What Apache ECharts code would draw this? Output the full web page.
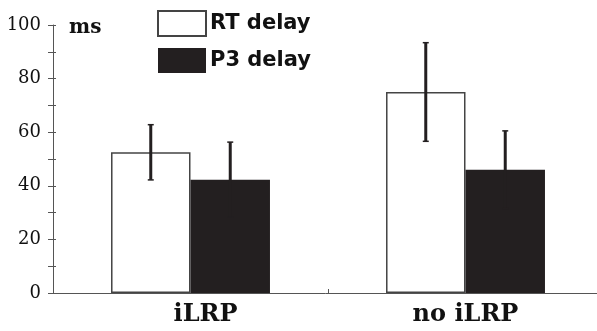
<!DOCTYPE html>
<html>
<head>
<meta charset="utf-8">
<script src="https://cdn.jsdelivr.net/npm/echarts@6/dist/echarts.min.js"></script>
<style>
html, body { margin: 0; padding: 0; background: #fff; }
#main { width: 597px; height: 331px; }
</style>
</head>
<body>
<div id="main"></div>
<script>
// 数据
var categories = ['iLRP', 'no iLRP']
var rtDelay = [52.5, 75]
var rtErr = [10.3, 18.4]
var p3Delay = [42.3, 46]
var p3Err = [14, 14.5]
var yTicks = [0, 20, 40, 60, 80, 100]

var axisColor = '#555'
var ink = '#231f20'

// 误差线 (side: -1 左柱, 1 右柱)
function errorSeries(name, vals, errs, side) {
	var data = vals.map(function (v, i) { return [i, v - errs[i], v + errs[i]] })
	return {
		type: 'custom',
		name: name + ' err',
		z: 5,
		data: data,
		renderItem: function (params, api) {
			var band = api.size([1, 0])[0]
			var lo = api.coord([api.value(0), api.value(1)])
			var hi = api.coord([api.value(0), api.value(2)])
			var x = lo[0] + side * band * 0.1445
			var cap = 3
			var st = { stroke: ink, lineWidth: 3 }
			return {
				type: 'group',
				children: [
					{ type: 'line', shape: { x1: x, y1: lo[1], x2: x, y2: hi[1] }, style: st },
					{ type: 'line', shape: { x1: x - cap, y1: hi[1], x2: x + cap, y2: hi[1] }, style: { stroke: ink, lineWidth: 1.5 } },
					{ type: 'line', shape: { x1: x - cap, y1: lo[1], x2: x + cap, y2: lo[1] }, style: { stroke: ink, lineWidth: 1.5 } }
				]
			}
		}
	}
}

var chart = echarts.init(document.getElementById('main'))
var option = {
	animation: false,
	grid: { left: 53, width: 550, top: 25, bottom: 38, outerBoundsMode: 'none', containLabel: false },
	legend: {
		left: 157,
		top: 10,
		padding: 0,
		orient: 'vertical',
		icon: 'rect',
		itemWidth: 48,
		itemHeight: 25,
		itemGap: 11,
		data: ['RT delay', 'P3 delay'],
		textStyle: { fontFamily: 'DejaVu Sans', fontWeight: 'bold', fontSize: 21, color: '#111', padding: [0, 0, 0, -1] }
	},
	graphic: [{
		type: 'text', left: 69, top: 18,
		style: { text: 'ms', font: 'bold 20px "DejaVu Serif"', fill: '#111' }
	}],
	xAxis: {
		type: 'category',
		data: categories,
		axisLine: { lineStyle: { color: axisColor, width: 1 } },
		axisTick: { show: true, inside: true, length: 4, lineStyle: { color: axisColor } },
		axisLabel: {
			margin: 10,
			formatter: function (v, i) { return i === 0 ? '{a|' + v + '}' : '{b|' + v + '}' },
			rich: {
				a: { fontFamily: 'DejaVu Serif', fontWeight: 'bold', fontSize: 24, color: '#111', padding: [0, 0, 0, 30] },
				b: { fontFamily: 'DejaVu Serif', fontWeight: 'bold', fontSize: 24, color: '#111', padding: [0, 0, 0, 0] }
			}
		}
	},
	yAxis: [{
		type: 'value',
		min: yTicks[0],
		max: yTicks[yTicks.length - 1],
		interval: 20,
		axisLine: { show: true, lineStyle: { color: axisColor, width: 1 } },
		axisTick: { show: true, length: 5, lineStyle: { color: axisColor } },
		minorTick: { show: true, splitNumber: 2, length: 5, lineStyle: { color: axisColor } },
		splitLine: { show: false },
		axisLabel: { margin: 12, fontFamily: 'DejaVu Serif', fontSize: 18, color: '#111' }
	}, {
		// 向内的刻度
		type: 'value',
		position: 'left',
		min: yTicks[0],
		max: yTicks[yTicks.length - 1],
		interval: 20,
		axisLine: { show: false },
		axisTick: { show: true, inside: true, length: 3, lineStyle: { color: axisColor } },
		minorTick: { show: true, splitNumber: 2, length: 3, lineStyle: { color: axisColor } },
		splitLine: { show: false },
		axisLabel: { show: false }
	}],
	series: [{
		name: 'RT delay',
		type: 'bar',
		barWidth: '28.9%',
		barGap: '0%',
		data: rtDelay,
		itemStyle: { color: '#fff', borderColor: '#444', borderWidth: 1.5 }
	}, {
		name: 'P3 delay',
		type: 'bar',
		barWidth: '28.9%',
		barGap: '0%',
		data: p3Delay,
		itemStyle: { color: ink, borderColor: ink, borderWidth: 0 }
	},
	errorSeries('RT delay', rtDelay, rtErr, -1),
	errorSeries('P3 delay', p3Delay, p3Err, 1)
	]
}
chart.setOption(option)
</script>
</body>
</html>
